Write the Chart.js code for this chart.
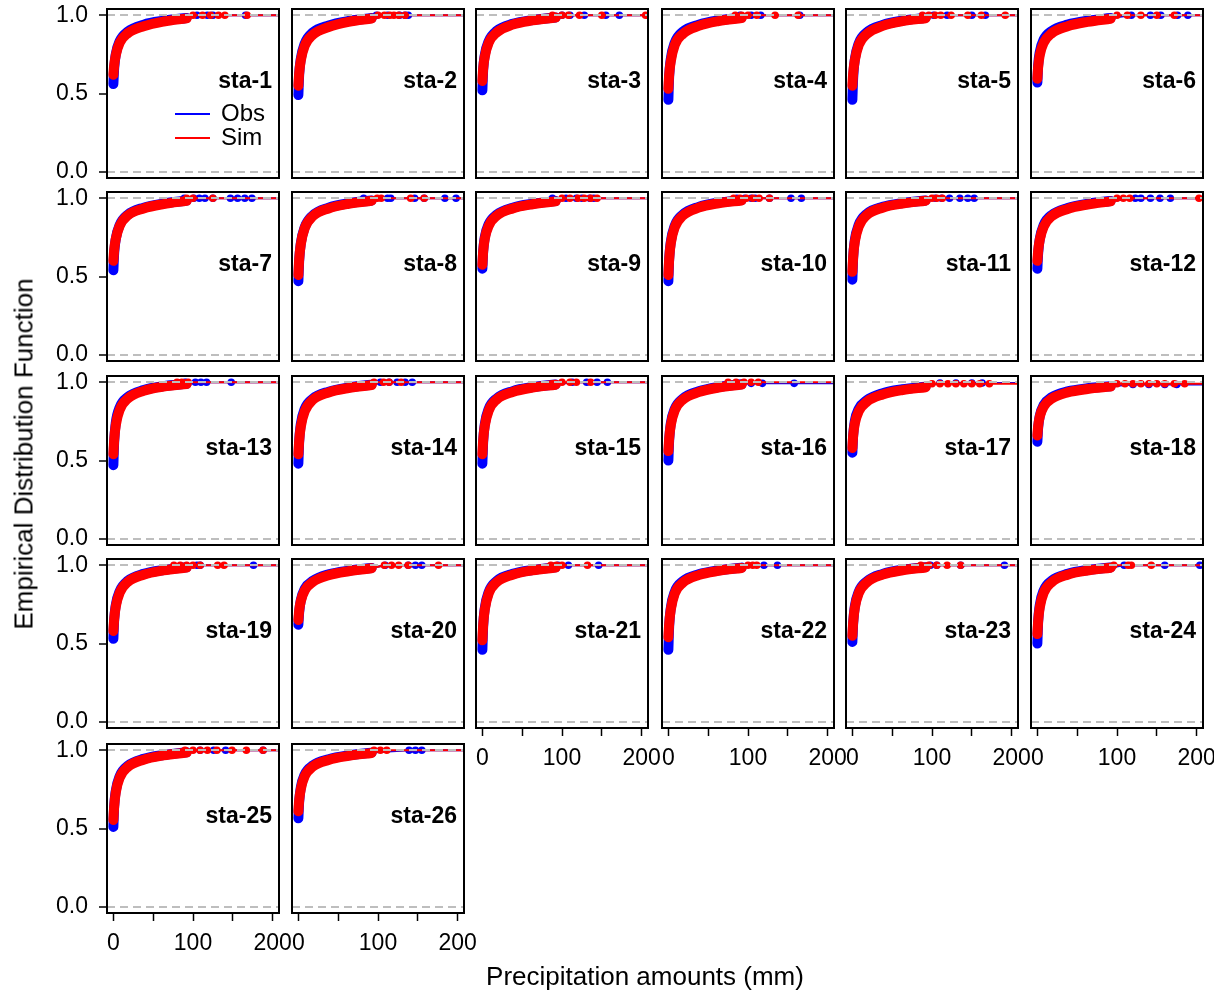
<!DOCTYPE html>
<html>
<head>
<meta charset="utf-8">
<script src="https://cdn.jsdelivr.net/npm/chart.js@4.4.1/dist/chart.umd.min.js"></script>
<style>
  html, body { margin: 0; padding: 0; background: #fff; }
  #fig { position: relative; width: 1214px; height: 991px; overflow: hidden; font-family: 'Liberation Sans', Arial, sans-serif; }
  #fig canvas { position: absolute; }
  .axis-title { position: absolute; font-size: 26px; color: #000; white-space: nowrap; z-index: 5; }
  #ytitle { left: 24px; top: 454px; transform: translate(-50%, -50%) rotate(-90deg); }
  #xtitle { left: 645px; top: 976px; transform: translate(-50%, -50%); }
</style>
</head>
<body>
<div id="fig">
  <div class="axis-title" id="ytitle">Empirical Distribution Function</div>
  <div class="axis-title" id="xtitle">Precipitation amounts (mm)</div>
</div>
<script>
// ---- data ----
const stations = ['sta-1', 'sta-2', 'sta-3', 'sta-4', 'sta-5', 'sta-6', 'sta-7', 'sta-8', 'sta-9',
  'sta-10', 'sta-11', 'sta-12', 'sta-13', 'sta-14', 'sta-15', 'sta-16', 'sta-17', 'sta-18',
  'sta-19', 'sta-20', 'sta-21', 'sta-22', 'sta-23', 'sta-24', 'sta-25', 'sta-26'];

// precipitation (mm) where the dense part of each ECDF is sampled
const xGrid = [0, 1, 3, 8, 18, 38, 63, 92];

// ECDF values at xGrid, one row per station
const obsCdf = [
  [0.56, 0.66, 0.75, 0.835, 0.895, 0.94, 0.965, 0.983],
  [0.49, 0.62, 0.72, 0.82, 0.89, 0.935, 0.963, 0.982],
  [0.52, 0.65, 0.745, 0.835, 0.9, 0.945, 0.97, 0.986],
  [0.46, 0.61, 0.72, 0.825, 0.895, 0.94, 0.968, 0.985],
  [0.46, 0.6, 0.715, 0.82, 0.89, 0.938, 0.966, 0.984],
  [0.57, 0.68, 0.765, 0.845, 0.9, 0.94, 0.965, 0.982],
  [0.54, 0.65, 0.74, 0.83, 0.895, 0.94, 0.967, 0.985],
  [0.47, 0.6, 0.71, 0.815, 0.89, 0.94, 0.968, 0.986],
  [0.55, 0.66, 0.75, 0.835, 0.895, 0.94, 0.965, 0.982],
  [0.47, 0.61, 0.72, 0.825, 0.895, 0.945, 0.972, 0.988],
  [0.48, 0.62, 0.73, 0.83, 0.9, 0.945, 0.97, 0.986],
  [0.55, 0.65, 0.74, 0.83, 0.893, 0.938, 0.965, 0.983],
  [0.47, 0.62, 0.74, 0.84, 0.905, 0.95, 0.975, 0.99],
  [0.48, 0.62, 0.73, 0.83, 0.895, 0.94, 0.967, 0.985],
  [0.48, 0.62, 0.73, 0.83, 0.897, 0.943, 0.969, 0.986],
  [0.5, 0.63, 0.735, 0.83, 0.895, 0.942, 0.97, 0.987],
  [0.55, 0.66, 0.75, 0.83, 0.885, 0.93, 0.955, 0.972],
  [0.62, 0.71, 0.785, 0.855, 0.905, 0.942, 0.962, 0.975],
  [0.53, 0.65, 0.745, 0.835, 0.9, 0.945, 0.97, 0.987],
  [0.62, 0.7, 0.775, 0.85, 0.9, 0.942, 0.966, 0.983],
  [0.46, 0.61, 0.725, 0.83, 0.9, 0.945, 0.97, 0.987],
  [0.46, 0.61, 0.725, 0.83, 0.897, 0.942, 0.968, 0.985],
  [0.51, 0.63, 0.735, 0.83, 0.897, 0.945, 0.972, 0.988],
  [0.5, 0.64, 0.745, 0.84, 0.902, 0.945, 0.97, 0.986],
  [0.51, 0.64, 0.74, 0.835, 0.9, 0.945, 0.97, 0.987],
  [0.565, 0.67, 0.76, 0.845, 0.902, 0.943, 0.968, 0.985]
];
const simCdf = [
  [0.62, 0.68, 0.745, 0.825, 0.885, 0.93, 0.96, 0.98],
  [0.55, 0.63, 0.71, 0.805, 0.875, 0.925, 0.958, 0.979],
  [0.58, 0.66, 0.735, 0.825, 0.89, 0.94, 0.967, 0.985],
  [0.53, 0.62, 0.705, 0.81, 0.88, 0.932, 0.963, 0.982],
  [0.55, 0.63, 0.71, 0.81, 0.88, 0.932, 0.962, 0.981],
  [0.595, 0.67, 0.745, 0.825, 0.885, 0.93, 0.958, 0.978],
  [0.6, 0.67, 0.74, 0.825, 0.89, 0.935, 0.963, 0.983],
  [0.51, 0.61, 0.705, 0.81, 0.885, 0.935, 0.965, 0.984],
  [0.575, 0.66, 0.74, 0.825, 0.888, 0.935, 0.962, 0.98],
  [0.51, 0.61, 0.71, 0.815, 0.888, 0.94, 0.968, 0.986],
  [0.53, 0.625, 0.72, 0.82, 0.892, 0.94, 0.966, 0.984],
  [0.6, 0.665, 0.735, 0.82, 0.885, 0.932, 0.96, 0.98],
  [0.54, 0.63, 0.725, 0.825, 0.895, 0.945, 0.972, 0.988],
  [0.54, 0.625, 0.715, 0.815, 0.887, 0.935, 0.963, 0.982],
  [0.54, 0.63, 0.72, 0.82, 0.89, 0.938, 0.966, 0.984],
  [0.56, 0.64, 0.725, 0.82, 0.888, 0.937, 0.966, 0.985],
  [0.58, 0.66, 0.735, 0.815, 0.875, 0.922, 0.95, 0.968],
  [0.66, 0.72, 0.78, 0.845, 0.895, 0.935, 0.957, 0.972],
  [0.58, 0.655, 0.735, 0.825, 0.893, 0.94, 0.967, 0.985],
  [0.65, 0.71, 0.77, 0.84, 0.893, 0.936, 0.962, 0.981],
  [0.52, 0.62, 0.715, 0.82, 0.892, 0.94, 0.967, 0.985],
  [0.54, 0.625, 0.715, 0.82, 0.888, 0.937, 0.964, 0.983],
  [0.55, 0.635, 0.725, 0.822, 0.89, 0.94, 0.968, 0.986],
  [0.56, 0.645, 0.73, 0.825, 0.892, 0.94, 0.966, 0.984],
  [0.555, 0.64, 0.73, 0.825, 0.893, 0.94, 0.967, 0.985],
  [0.61, 0.68, 0.75, 0.835, 0.895, 0.938, 0.964, 0.983]
];

// isolated large amounts (mm) plotted near the top of each panel
const obsTail = [
  [105, 118, 125, 166], [98, 112, 127, 134, 138], [100, 110, 128, 155, 172], [90, 104, 116, 165],
  [102, 119, 150, 167], [118, 142, 155, 176, 189], [89, 101, 108, 115, 125, 147, 156, 165, 174],
  [82, 112, 116, 146, 158, 184, 198], [88, 105, 118, 125, 135, 140], [86, 96, 104, 109, 127, 154, 167],
  [104, 112, 122, 135, 145, 153], [123, 130, 142, 154, 167], [90, 103, 110, 117, 148],
  [103, 114, 124, 134, 143], [113, 131, 144, 157], [104, 118, 158], [110, 130, 150, 163],
  [120, 140, 160, 175], [105, 109, 176], [109, 138, 147, 155], [95, 108, 146], [120, 137],
  [98, 106, 136, 191], [109, 160, 204], [109, 126, 141, 188], [139, 147, 155]
];
const simTail = [
  [100, 112, 122, 132, 140, 168], [100, 108, 115, 120, 126, 134], [88, 100, 108, 122, 150, 205],
  [84, 92, 100, 111, 134, 163], [88, 96, 104, 111, 124, 145, 162, 192], [100, 113, 130, 150, 172],
  [92, 100, 125], [99, 104, 141, 158], [100, 110, 120, 128, 136, 144], [82, 90, 98, 106, 114, 127],
  [100, 106, 113], [100, 108, 116, 203], [80, 86, 94], [95, 107, 114, 129], [100, 110, 118, 136],
  [75, 85, 95, 104, 113], [100, 110, 120, 130, 140, 150, 160, 172],
  [100, 110, 120, 130, 140, 150, 160, 172, 185], [76, 84, 92, 100, 109, 131, 139],
  [108, 117, 126, 138, 176], [86, 93, 100, 132], [100, 106, 111], [86, 96, 106, 119, 136],
  [96, 114, 118, 143], [90, 100, 109, 118, 130, 149, 167, 188], [95, 103, 111]
];
// level of the last step of each ECDF inside the plotted range
const obsTopY = [1, 1, 1, 1, 1, 1, 1, 1, 1, 1, 1, 1, 1, 1, 1, 0.993, 0.995, 0.986, 1, 1, 1, 1, 1, 1, 1, 1];
const simTopY = [1, 1, 1, 1, 1, 1, 1, 1, 1, 1, 1, 1, 1, 1, 1, 1, 0.99, 0.99, 1, 1, 1, 1, 1, 1, 1, 1];

const xTicks = [0, 50, 100, 150, 200];
const xTickLabels = ['0', '', '100', '', '200'];
const yTicks = [0, 0.5, 1];
const yTickLabels = ['0.0', '0.5', '1.0'];
const legendLabels = ['Obs', 'Sim'];

// ---- layout ----
const OBS_COLOR = '#0000ff';
const SIM_COLOR = '#ff0000';
const FONT = "'Liberation Sans', Arial, sans-serif";
const colLeft = [107, 292, 476, 662, 846, 1031];
const rowTop = [9, 192, 376, 559, 744];
const boxW = 172, boxH = 169;
const ML = 70, MR = 32, MT = 16, MB = 62;

Chart.defaults.font.family = FONT;
Chart.defaults.color = '#000';

// box, station name and (first panel) legend
const panelDeco = {
  id: 'panelDeco',
  afterDraw(chart, args, opts) {
    const ctx = chart.ctx, a = chart.chartArea;
    ctx.save();
    ctx.strokeStyle = '#000';
    ctx.lineWidth = 2;
    ctx.strokeRect(a.left, a.top, a.right - a.left, a.bottom - a.top);
    ctx.fillStyle = '#000';
    ctx.font = 'bold 23px ' + FONT;
    ctx.textAlign = 'right';
    ctx.textBaseline = 'middle';
    ctx.fillText(opts.name, a.right - 7, a.top + 73);
    if (opts.legend) {
      ctx.font = '24px ' + FONT;
      ctx.textAlign = 'left';
      [OBS_COLOR, SIM_COLOR].forEach((c, k) => {
        const y = a.top + 105 + k * 24;
        ctx.strokeStyle = c;
        ctx.lineWidth = 2;
        ctx.beginPath();
        ctx.moveTo(a.left + 68, y);
        ctx.lineTo(a.left + 103, y);
        ctx.stroke();
        ctx.fillText(legendLabels[k], a.left + 114, y);
      });
    }
    ctx.restore();
  }
};

function tailPoints(cdf, tail, topY) {
  const pts = tail.map(x => ({x: x, y: topY}));
  pts.push({x: xGrid[xGrid.length - 1], y: cdf[cdf.length - 1], edge: true});
  pts.push({x: 214, y: topY, edge: true});
  return pts.sort((p, q) => p.x - q.x);
}

function series(cdf, tail, topY, color, order) {
  return [
    {
      data: xGrid.map((x, k) => ({x: x, y: cdf[k]})),
      showLine: true,
      borderColor: color,
      borderWidth: 10,
      pointRadius: 0,
      cubicInterpolationMode: 'monotone',
      borderCapStyle: 'round',
      borderJoinStyle: 'round',
      order: order,
      clip: 0
    },
    {
      data: tailPoints(cdf, tail, topY),
      showLine: true,
      borderColor: color,
      backgroundColor: color,
      borderWidth: 2,
      pointRadius: c => (c.raw && c.raw.edge) ? 0 : 3.8,
      pointBorderWidth: 0,
      pointBackgroundColor: color,
      order: order + 1,
      clip: 0
    }
  ];
}

const fig = document.getElementById('fig');

stations.forEach((name, i) => {
  const row = Math.floor(i / 6), col = i % 6;
  const first = col === 0;
  const bottom = row === 4 || (row === 3 && col >= 2);
  const yw = first ? ML : 0;
  const xh = bottom ? MB : 0;

  const cv = document.createElement('canvas');
  const w = ML + boxW + MR, h = MT + boxH + MB;
  cv.width = w;
  cv.height = h;
  cv.style.width = w + 'px';
  cv.style.height = h + 'px';
  cv.style.left = (colLeft[col] - ML) + 'px';
  cv.style.top = (rowTop[row] - MT) + 'px';
  fig.appendChild(cv);

  new Chart(cv, {
    type: 'scatter',
    data: {
      datasets: [
        ...series(simCdf[i], simTail[i], simTopY[i], SIM_COLOR, 0),
        ...series(obsCdf[i], obsTail[i], obsTopY[i], OBS_COLOR, 2)
      ]
    },
    options: {
      responsive: false,
      devicePixelRatio: 1,
      animation: false,
      events: [],
      layout: {
        autoPadding: false,
        padding: {left: ML - yw, right: MR, top: MT, bottom: MB - xh}
      },
      plugins: {
        legend: {display: false},
        tooltip: {enabled: false},
        panelDeco: {name: name, legend: i === 0}
      },
      scales: {
        x: {
          type: 'linear',
          min: -8,
          max: 208,
          afterBuildTicks: s => { s.ticks = xTicks.map(v => ({value: v})); },
          afterFit: s => { s.height = xh; s.paddingLeft = 0; s.paddingRight = 0; },
          ticks: {
            display: bottom,
            autoSkip: false,
            maxRotation: 0,
            padding: 9,
            font: {size: 23},
            callback: (v, idx) => xTickLabels[idx]
          },
          grid: {
            display: bottom,
            drawOnChartArea: false,
            drawTicks: true,
            tickLength: 8,
            tickColor: '#000',
            tickWidth: 1.5
          },
          border: {display: false}
        },
        y: {
          type: 'linear',
          min: -0.04,
          max: 1.04,
          afterBuildTicks: s => { s.ticks = yTicks.map(v => ({value: v})); },
          afterFit: s => { s.width = yw; s.paddingTop = 0; s.paddingBottom = 0; },
          ticks: {
            display: first,
            padding: 11,
            font: {size: 23},
            callback: (v, idx) => yTickLabels[idx]
          },
          grid: {
            display: true,
            drawOnChartArea: true,
            drawTicks: first,
            tickLength: 8,
            tickColor: '#000',
            tickWidth: 1.5,
            lineWidth: 2,
            color: c => (c.tick && c.tick.value === 0.5) ? 'rgba(0,0,0,0)' : '#bebebe',
            z: 1
          },
          border: {display: false, dash: [8, 5]}
        }
      }
    },
    plugins: [panelDeco]
  });
});
</script>
</body>
</html>
